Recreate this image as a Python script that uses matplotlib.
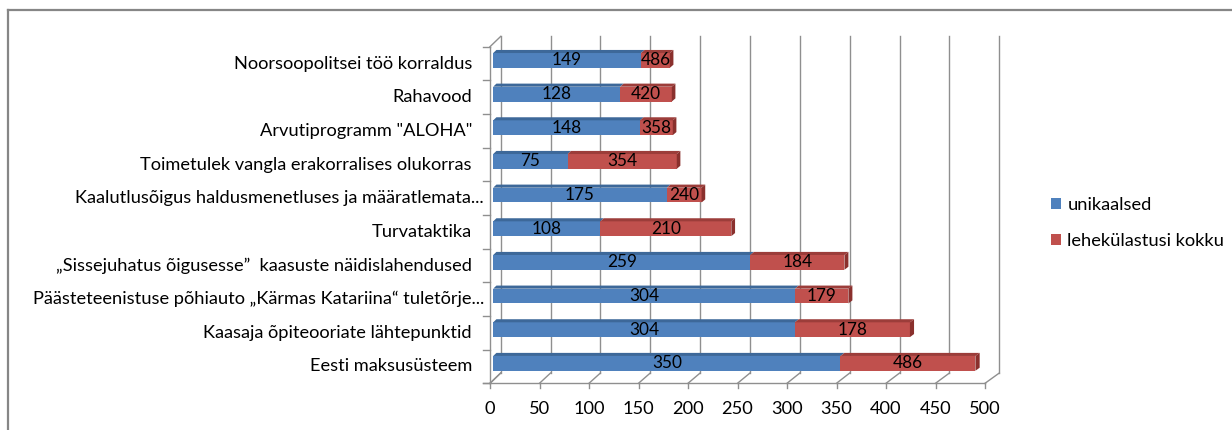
import matplotlib
matplotlib.use("Agg")
import matplotlib.pyplot as plt
from matplotlib.transforms import Affine2D, IdentityTransform, offset_copy
from matplotlib.patches import Polygon
from matplotlib.lines import Line2D

# ---------------- data ----------------
categories = [
    "Noorsoopolitsei töö korraldus",
    "Rahavood",
    'Arvutiprogramm "ALOHA"',
    "Toimetulek vangla erakorralises olukorras",
    "Kaalutlusõigus haldusmenetluses ja määratlemata...",
    "Turvataktika",
    "„Sissejuhatus õigusesse”  kaasuste näidislahendused",
    "Päästeteenistuse põhiauto „Kärmas Katariina“ tuletõrje...",
    "Kaasaja õpiteooriate lähtepunktid",
    "Eesti maksusüsteem",
]
unikaalsed = [149, 128, 148, 75, 175, 108, 259, 304, 304, 350]
# where the red (stacked) segment ends, as drawn
kokku_bar_end = [178, 180, 181, 185, 210, 240, 354, 358, 420, 486]
# the numbers printed on the red segments
kokku_labels = [486, 420, 358, 354, 240, 210, 184, 179, 178, 486]
x_ticks = [0, 50, 100, 150, 200, 250, 300, 350, 400, 450, 500]
series_names = ["unikaalsed", "lehekülastusi kokku"]

# ---------------- style ----------------
W, H = 1232, 430
FONT = ["Lato", "DejaVu Sans"]
plt.rcParams["font.family"] = FONT
BLUE, BLUE_TOP = "#4f81bd", "#3d6899"
RED, RED_TOP, RED_SIDE = "#c0504d", "#9c3d3a", "#8a302d"
GRID = "#8f8f8f"
BORDER = "#868686"

fig = plt.figure(figsize=(W / 100, H / 100), dpi=100)
renderer = fig.canvas.get_renderer()


def fit_size(s, target_px, base=10.0):
    t = fig.text(0, 0, s, fontsize=base)
    w = t.get_window_extent(renderer).width
    t.remove()
    return base * target_px / w


FS_CAT = fit_size("Eesti maksusüsteem", 162)
FS_NUM = fit_size("350", 30)

front_left, front_right = 490, 985
front_top, front_bot = 46.7, 383.3
ax = fig.add_axes([front_left / W, 1 - front_bot / H,
                   (front_right - front_left) / W, (front_bot - front_top) / H])
n = len(categories)
ax.set_xlim(0, 500)
ax.set_ylim(n - 0.5, -0.5)
ax.axis("off")

x0 = ax.transData.transform((0, 0))[0]
DX0, DY, SX = 10.7, 10.3, 0.0073


def depth(d):
    return ax.transData + Affine2D().translate(-x0, 0).scale(1 + d * SX, 1).translate(x0 + d * DX0, d * DY)


def line_pts(p, q, **kw):
    ln = Line2D([p[0], q[0]], [p[1], q[1]], transform=IdentityTransform(), clip_on=False, **kw)
    ax.add_artist(ln)


def poly_pts(pts, **kw):
    pg = Polygon(pts, closed=True, transform=IdentityTransform(), clip_on=False, **kw)
    ax.add_artist(pg)


T0, T1 = depth(0), depth(1)
lw = 1.0
ybot, ytop = n - 0.5, -0.5

# back wall gridlines
for t in x_ticks:
    line_pts(T1.transform((t, ybot)), T1.transform((t, ytop)), color=GRID, lw=lw, zorder=1)
# floor
for t in x_ticks:
    line_pts(T0.transform((t, ybot)), T1.transform((t, ybot)), color=GRID, lw=lw, zorder=1)
    p = T0.transform((t, ybot))
    line_pts(p, (p[0], p[1] - 5), color=GRID, lw=lw, zorder=1)
p = T0.transform((0, ybot))
line_pts((p[0] - 7, p[1]), T0.transform((500, ybot)), color=GRID, lw=lw, zorder=1)
# left wall
line_pts(T0.transform((0, ybot)), T0.transform((0, ytop)), color=GRID, lw=lw, zorder=1)
line_pts(T0.transform((0, ytop)), T1.transform((0, ytop)), color=GRID, lw=lw, zorder=1)
line_pts(T0.transform((0, ybot)), T1.transform((0, ybot)), color=GRID, lw=lw, zorder=1)
for k in range(n + 1):
    p = T0.transform((0, k - 0.5))
    line_pts((p[0] - 7, p[1]), p, color=GRID, lw=lw, zorder=1)

# bars
D_FRONT, D_BACK = 0.3, 0.6
BAR_H = 0.44
TF, TB = depth(D_FRONT), depth(D_BACK)
ypos = list(range(n))
red_width = [e - u for e, u in zip(kokku_bar_end, unikaalsed)]
b1 = ax.barh(ypos, unikaalsed, height=BAR_H, color=BLUE, transform=TF, zorder=3,
             label=series_names[0], clip_on=False)
b2 = ax.barh(ypos, red_width, left=unikaalsed, height=BAR_H, color=RED, transform=TF, zorder=3,
             label=series_names[1], clip_on=False)
for i in ypos:
    yt, yb = i - BAR_H / 2, i + BAR_H / 2
    segs = [(0, unikaalsed[i], BLUE_TOP), (unikaalsed[i], kokku_bar_end[i], RED_TOP)]
    for a, b, c in segs:
        poly_pts([TF.transform((a, yt)), TF.transform((b, yt)), TB.transform((b, yt)), TB.transform((a, yt))],
                 facecolor=c, edgecolor="none", zorder=3)
    e = kokku_bar_end[i]
    poly_pts([TF.transform((e, yt)), TF.transform((e, yb)), TB.transform((e, yb)), TB.transform((e, yt))],
             facecolor=RED_SIDE, edgecolor="none", zorder=3)
    ax.text(unikaalsed[i] / 2, i, str(unikaalsed[i]), transform=TF, ha="center", va="center",
            fontsize=FS_NUM, color="black", zorder=5)
    ax.text((unikaalsed[i] + e) / 2, i, str(kokku_labels[i]), transform=TF, ha="center", va="center",
            fontsize=FS_NUM, color="black", zorder=5)

# category labels
for i, c in enumerate(categories):
    off = -6 if c.endswith("...") else -18
    ax.text(0, i, c, transform=offset_copy(ax.transData, fig, x=off, y=0, units="dots"),
            ha="right", va="center", fontsize=FS_CAT, color="black")

# x tick labels
for t in x_ticks:
    ax.text(t, ybot, str(t), transform=offset_copy(ax.transData, fig, x=0, y=-25.5, units="dots"),
            ha="center", va="center", fontsize=FS_CAT, color="black")

# legend
fig.legend(handles=[b1, b2], labels=series_names, loc="center left",
           bbox_to_anchor=(1051 / W, 1 - 223 / H), frameon=False, fontsize=FS_CAT,
           handlelength=0.55, handleheight=0.55, handletextpad=0.35, labelspacing=1.05,
           borderpad=0, borderaxespad=0)

# outer border
fig.add_artist(Line2D([7.5 / W, 7.5 / W], [0, 1 - 10 / H], transform=fig.transFigure, color=BORDER, lw=1.6))
fig.add_artist(Line2D([7.5 / W, 1], [1 - 10 / H, 1 - 10 / H], transform=fig.transFigure, color=BORDER, lw=1.6))

fig.savefig("out.png", dpi=100)
